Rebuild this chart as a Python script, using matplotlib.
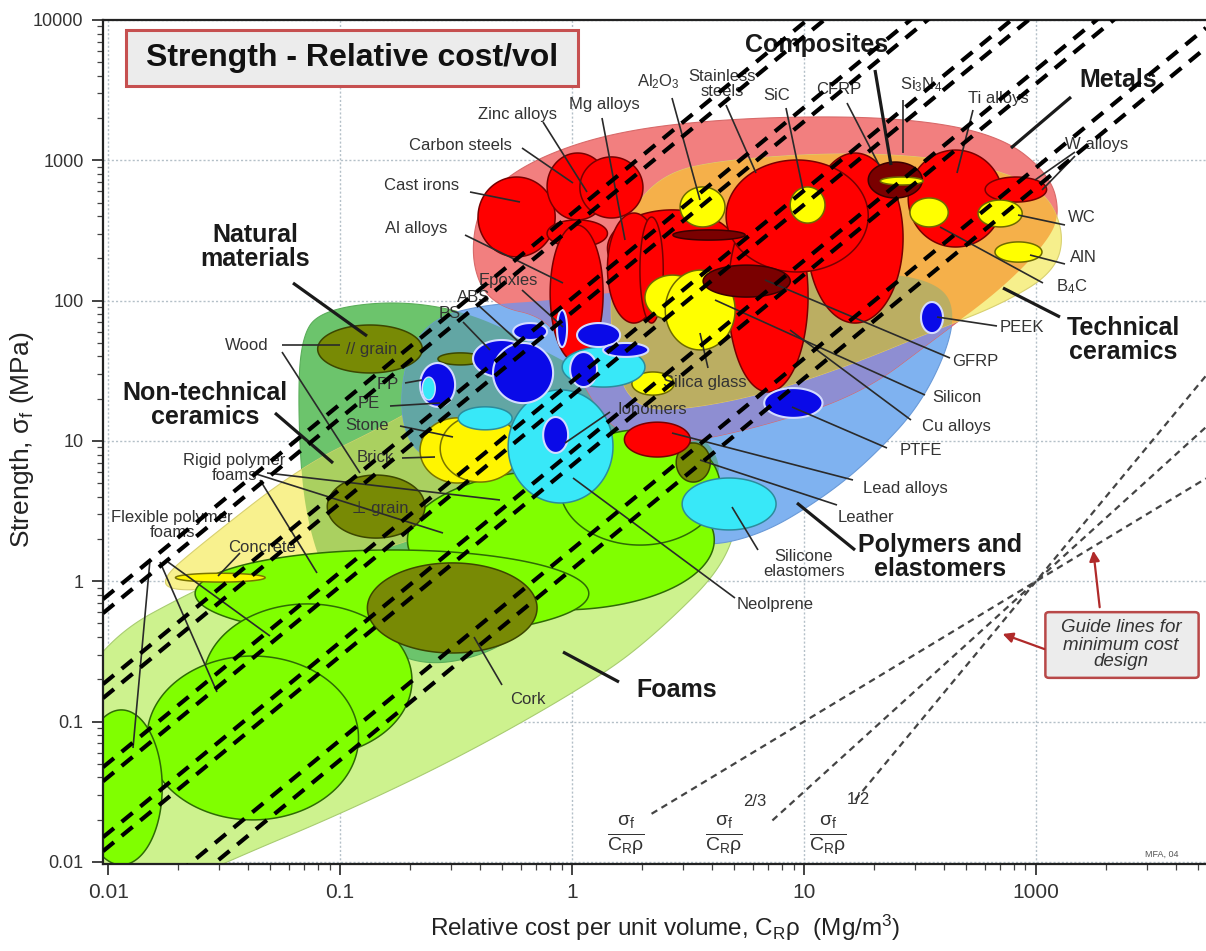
import numpy as np
import matplotlib
matplotlib.use("Agg")
import matplotlib.pyplot as plt
from matplotlib.patches import Polygon, Rectangle, FancyBboxPatch
from matplotlib.lines import Line2D
from matplotlib.ticker import LogLocator, NullFormatter

plt.rcParams['font.family'] = ['Liberation Sans', 'DejaVu Sans']
plt.rcParams['mathtext.fontset'] = 'custom'
plt.rcParams['mathtext.rm'] = 'Liberation Sans'
plt.rcParams['mathtext.it'] = 'Liberation Sans:italic'
plt.rcParams['mathtext.bf'] = 'Liberation Sans:bold'

# ---------------------------------------------------------------------------
# Material property bubbles: (cost lo, cost hi, strength lo, strength hi)
# cost = relative cost per unit volume (Mg/m^3), strength in MPa
# ---------------------------------------------------------------------------
FOAM_BUBBLES = [
    (0.195, 4.10, 0.624, 6.21),
    (0.887, 4.35, 1.81, 12.0),
    (0.0237, 1.18, 0.400, 1.67),
    (0.0257, 0.204, 0.0558, 0.689),
    (0.0147, 0.120, 0.0199, 0.293),
    (0.0076, 0.0171, 0.0095, 0.121),
]
NATURAL_BUBBLES = [
    (0.080, 0.226, 30.5, 67.0),    # wood, parallel to grain
    (0.264, 0.413, 34.8, 42.4),    # bamboo
    (0.088, 0.232, 2.03, 5.71),    # wood, perpendicular to grain
    (0.131, 0.706, 0.308, 1.35),   # cork
    (2.81, 3.94, 5.09, 9.67),      # leather
]
NONTECH_BUBBLES = [
    (0.0195, 0.0475, 0.986, 1.14),  # concrete
    (0.221, 0.466, 5.01, 14.6),     # brick
    (0.270, 0.597, 5.09, 15.3),     # stone
]
METAL_BUBBLES = [
    (0.393, 0.845, 205, 760),      # cast irons
    (1.42, 5.14, 125, 443),
    (0.780, 1.43, 376, 1127),      # carbon steels
    (1.08, 2.02, 388, 1057),       # zinc alloys
    (0.780, 1.42, 241, 376),
    (0.804, 1.36, 36.5, 346),      # Al alloys
    (1.42, 2.40, 69.2, 421),       # Mg alloys
    (1.96, 2.47, 69.2, 394),
    (10.3, 26.7, 69.2, 1127),
    (4.70, 10.4, 22.3, 521),       # Cu alloys
    (4.61, 18.9, 160, 1005),       # stainless steels
    (28.1, 72.1, 241, 1183),       # Ti alloys
    (60.3, 111, 504, 760),         # W alloys
    (1.68, 3.23, 7.68, 13.6),      # lead alloys
]
CERAMIC_BUBBLES = [
    (2.92, 4.56, 335, 646),        # Al2O3
    (8.71, 12.3, 357, 646),        # SiC
    (28.6, 41.8, 335, 539),        # B4C
    (56.2, 87.1, 335, 521),        # WC
    (66.5, 106, 188, 262),         # AlN
    (2.06, 3.56, 72.7, 152),
    (2.52, 5.04, 44.5, 165),       # silicon
    (1.81, 2.75, 21.2, 31.0),      # silica glass
]
CERAMIC_FRONT = [
    (21.3, 32.6, 667, 760),        # Si3N4
]
COMPOSITE_BUBBLES = [
    (18.9, 32.3, 539, 972),        # CFRP
    (3.67, 8.71, 106, 179),        # GFRP
    (2.72, 5.57, 270, 319),
]
ELASTOMER_BUBBLES = [
    (0.530, 1.50, 3.61, 23.1),
    (0.323, 0.551, 12.0, 17.5),
    (0.906, 2.06, 24.2, 46.7),
    (2.98, 7.57, 2.32, 5.44),      # silicone elastomers
]
POLYMER_BUBBLES = [
    (0.221, 0.313, 17.5, 35.9),    # PP
    (0.374, 0.659, 28.5, 52.4),    # PS
    (0.456, 0.828, 18.6, 49.9),
    (0.557, 0.780, 52.4, 69.2),    # ABS
    (0.861, 0.951, 46.7, 85.7),    # epoxies
    (1.05, 1.61, 46.7, 69.2),
    (0.980, 1.28, 24.2, 43.0),
    (1.36, 2.13, 39.7, 49.9),
    (0.750, 0.961, 8.21, 14.8),    # ionomers
    (6.73, 12.0, 14.6, 23.8),      # PTFE
    (31.9, 39.7, 58.7, 97.7),      # PEEK
]
ELASTOMER_FRONT = [
    (0.226, 0.257, 19.6, 28.5),    # PE
]

# Family envelopes: outline points (cost, strength)
ENV_FOAMS = [(0.0056, 0.0738), (0.0095, 0.381), (0.0249, 0.910), (0.0906, 2.32),
             (0.244, 6.21), (0.887, 14.1), (2.92, 12.0), (5.30, 4.47), (4.80, 1.42),
             (2.40, 0.449), (1.32, 0.207), (0.363, 0.0607), (0.103, 0.0223),
             (0.0336, 0.0103), (0.0092, 0.00385)]
ENV_NATURAL = [(0.0659, 14.1), (0.0673, 52.4), (0.082, 85.7), (0.181, 101), (0.401, 78.9),
               (0.887, 37.8), (3.56, 12.0), (4.56, 6.21), (3.56, 3.79), (1.20, 1.42),
               (0.597, 0.381), (0.270, 0.240), (0.149, 0.324), (0.0950, 0.735),
               (0.0706, 2.73)]
ENV_NONTECH = [(0.0167, 1.02), (0.0249, 1.81), (0.0673, 6.52), (0.153, 12.6), (0.244, 19.6),
               (0.490, 21.2), (0.693, 14.1), (0.659, 5.26), (0.363, 2.73), (0.110, 1.42),
               (0.0409, 0.940), (0.0195, 0.838)]
ENV_POLYMERS = [(0.181, 14.1), (0.190, 37.8), (0.244, 72.7), (0.401, 93.1), (0.887, 101),
                (3.56, 140), (15.8, 165), (38.5, 140), (46.1, 72.7), (33.2, 19.6),
                (19.2, 7.31), (11.7, 3.79), (6.46, 2.13), (3.56, 1.73), (1.32, 2.32),
                (0.490, 5.26), (0.221, 7.31)]
ENV_METALS = [(0.363, 195), (0.401, 521), (0.659, 1005), (1.61, 1644), (5.85, 2037),
              (25.9, 2037), (70.0, 1514), (115, 785), (127, 407), (109, 249), (70.0, 119),
              (38.5, 56.9), (17.4, 21.2), (5.85, 12.0), (2.40, 9.06), (1.46, 12.0),
              (1.03, 32.0), (0.804, 75.2), (0.443, 93.1)]
ENV_TECH = [(1.69, 376), (2.40, 785), (4.35, 1005), (15.8, 1145), (47.0, 1005), (104, 667),
            (133, 319), (121, 160), (70.0, 93.1), (36.7, 61.7), (15.8, 34.8), (6.46, 21.2),
            (2.92, 16.6), (1.96, 17.2), (1.58, 27.2), (1.43, 101)]

# Thick selection lines: strength at unit cost (MPa) and log-log slope
THICK_S1 = [419, 333, 104, 82.6, 26.6, 21.1, 8.43, 6.70, 1.69, 1.22]
THICK_SLOPE = 1.36
# Minimum-cost guide lines through a common point, slopes 1, 3/2, 2
GUIDE_SLOPES = [1.0, 1.5, 2.0]
GUIDE_START = [2.2, 7.3, 16.6]
GUIDE_PIVOT = (100.0, 1.0)

X_TICKS = [0.01, 0.1, 1, 10, 100]
X_TICKLABELS = ['0.01', '0.1', '1', '10', '1000']
Y_TICKS = [0.01, 0.1, 1, 10, 100, 1000, 10000]
Y_TICKLABELS = ['0.01', '0.1', '1', '10', '100', '1000', '10000']

# ---------------------------------------------------------------------------
W, H = 1206, 951
fig = plt.figure(figsize=(W / 100, H / 100), dpi=100)
ax = fig.add_axes([103 / W, 87 / H, 1103 / W, 844 / H])
ax.set_xscale('log')
ax.set_yscale('log')
ax.set_xlim(0.0095, 540)
ax.set_ylim(0.00965, 10000)


def P(px, py):
    return (px / W, 1 - py / H)


def ellipse_xy(b, n=160):
    clo, chi, slo, shi = b
    cx = 0.5 * (np.log10(clo) + np.log10(chi))
    rx = 0.5 * (np.log10(chi) - np.log10(clo))
    cy = 0.5 * (np.log10(slo) + np.log10(shi))
    ry = 0.5 * (np.log10(shi) - np.log10(slo))
    t = np.linspace(0, 2 * np.pi, n)
    return np.column_stack([10 ** (cx + rx * np.cos(t)), 10 ** (cy + ry * np.sin(t))])


def smooth_outline(pts, n=5):
    p = np.log10(np.asarray(pts, float))
    for _ in range(n):
        q = np.roll(p, -1, axis=0)
        a = 0.75 * p + 0.25 * q
        b = 0.25 * p + 0.75 * q
        p = np.stack([a, b], axis=1).reshape(-1, 2)
    return 10 ** p


def draw_bubbles(lst, fc, ec, lw, z):
    for b in lst:
        ax.add_patch(Polygon(ellipse_xy(b), closed=True, fc=fc, ec=ec, lw=lw, zorder=z))


env = {k: smooth_outline(v) for k, v in dict(
    foams=ENV_FOAMS, natural=ENV_NATURAL, nontech=ENV_NONTECH, polymers=ENV_POLYMERS,
    metals=ENV_METALS, tech=ENV_TECH).items()}


def draw_env(key, fc, ec, z):
    ax.add_patch(Polygon(env[key], closed=True, fc=fc, ec=ec, lw=0.8, zorder=z))


def draw_overlap(a, b, fc, z):
    p = Polygon(env[a], closed=True, fc=fc, ec='none', zorder=z)
    ax.add_patch(p)
    p.set_clip_path(Polygon(env[b], closed=True, transform=ax.transData))


# envelopes and their overlaps
draw_env('foams', '#CDF28E', '#A8CC70', 1.00)
draw_env('natural', '#6CC46C', '#5AAE5A', 1.01)
draw_env('nontech', '#F8F18E', '#D8D070', 1.02)
draw_overlap('natural', 'nontech', '#AAD060', 1.03)
draw_env('polymers', '#7FB2F0', '#6A9AD8', 1.04)
draw_overlap('natural', 'polymers', '#62A6A4', 1.05)
draw_env('metals', '#F27F7F', '#D86A6A', 1.06)
draw_overlap('metals', 'polymers', '#8E8ED2', 1.07)
draw_env('tech', '#F6EF8C', '#D8D070', 1.08)
draw_overlap('tech', 'metals', '#F5B04A', 1.09)
draw_overlap('tech', 'polymers', '#BBAE62', 1.10)

# bubbles
draw_bubbles(FOAM_BUBBLES, '#80FF00', '#2E6A05', 1.1, 2.0)
draw_bubbles(NATURAL_BUBBLES, '#788A05', '#3C4600', 1.1, 2.1)
draw_bubbles(NONTECH_BUBBLES, '#FFF500', '#7A7400', 1.1, 2.2)
draw_bubbles(METAL_BUBBLES, '#FF0000', '#780000', 1.1, 2.3)
draw_bubbles(CERAMIC_BUBBLES, '#FFFF00', '#6E6A00', 1.1, 2.4)
draw_bubbles(COMPOSITE_BUBBLES, '#7A0000', '#3A0000', 1.1, 2.5)
draw_bubbles(CERAMIC_FRONT, '#FFFF00', '#6E6A00', 1.1, 2.6)
draw_bubbles(ELASTOMER_BUBBLES, '#38E8F8', '#2C8C9C', 1.1, 2.7)
draw_bubbles(POLYMER_BUBBLES, '#0A0AE8', '#D4DCFF', 1.5, 2.8)
draw_bubbles(ELASTOMER_FRONT, '#38E8F8', '#D4DCFF', 1.0, 2.9)

# thin guide lines for minimum cost design
xmin, xmax = ax.get_xlim()
for m, x0 in zip(GUIDE_SLOPES, GUIDE_START):
    xs = np.logspace(np.log10(x0), np.log10(xmax), 50)
    ys = GUIDE_PIVOT[1] * (xs / GUIDE_PIVOT[0]) ** m
    ax.plot(xs, ys, color='#444444', lw=1.6, ls=(0, (3, 2.2)), zorder=4)

# thick selection lines
xs = np.logspace(np.log10(xmin), np.log10(xmax), 50)
for s1 in THICK_S1:
    ax.plot(xs, s1 * xs ** THICK_SLOPE, color='black', lw=3.0, ls=(0, (3.4, 2.4)), zorder=7)

# axes styling
ax.set_xticks(X_TICKS)
ax.set_xticklabels(X_TICKLABELS)
ax.set_yticks(Y_TICKS)
ax.set_yticklabels(Y_TICKLABELS)
ax.xaxis.set_minor_locator(LogLocator(base=10, subs=np.arange(2, 10), numticks=20))
ax.yaxis.set_minor_locator(LogLocator(base=10, subs=np.arange(2, 10), numticks=20))
ax.xaxis.set_minor_formatter(NullFormatter())
ax.yaxis.set_minor_formatter(NullFormatter())
ax.tick_params(which='major', direction='out', length=8, width=1.2, colors='#222222',
               labelsize=15, labelcolor='#333333', pad=6)
ax.tick_params(which='minor', direction='out', length=4, width=0.9, colors='#444444')
ax.tick_params(axis='y', labelsize=13)
ax.set_axisbelow(True)
ax.grid(which='major', color='#B4C0C8', lw=1.0, ls=(0, (1.5, 1.5)))
for s in ('left', 'bottom', 'top'):
    ax.spines[s].set_linewidth(1.6)
    ax.spines[s].set_color('#222222')
ax.spines['right'].set_visible(False)


def txt(px, py, s, fs=11.5, weight='normal', color='#333333', z=6, **kw):
    ax.text(*P(px, py), s, transform=fig.transFigure, ha=kw.pop('ha', 'center'),
            va=kw.pop('va', 'center'), fontsize=fs, fontweight=weight, color=color,
            zorder=z, **kw)


def lead(x0, y0, x1, y1, lw=1.2, color='#2A2A2A'):
    ax.add_line(Line2D([x0 / W, x1 / W], [1 - y0 / H, 1 - y1 / H], transform=fig.transFigure,
                       color=color, lw=lw, zorder=5, solid_capstyle='butt'))


# axis titles
txt(665, 928, r'Relative cost per unit volume, $\mathrm{C_R\rho}$  (Mg/m$^3$)', fs=17.5,
    color='#222222')
txt(22, 440, r'Strength, $\mathrm{\sigma_f}$ (MPa)', fs=19, color='#222222', rotation=90)

# title box
ax.add_patch(Rectangle(P(126, 86), 452 / W, 56 / H, transform=fig.transFigure,
                       fc='#ECECEC', ec='#C65050', lw=2.2, zorder=8))
txt(352, 58, 'Strength - Relative cost/vol', fs=23, weight='bold', color='#111111', z=9)

# material labels
labels = [
    ("Zinc alloys", 518, 115), ("Mg alloys", 604, 104), ("Carbon steels", 460, 146),
    ("Cast irons", 422, 185), ("Al alloys", 416, 228), ("Epoxies", 508, 280),
    ("ABS", 474, 297), ("PS", 450, 313), ("Wood", 247, 345), ("// grain", 372, 350),
    ("PP", 388, 385), ("PE", 369, 404), ("Stone", 367, 425), ("Brick", 375, 458),
    ("Rigid polymer\nfoams", 234, 468), ("\u22a5 grain", 380, 508),
    ("Flexible polymer\nfoams", 172, 525), ("Concrete", 262, 547), ("Cork", 528, 700),
    ("Neolprene", 775, 605), ("Silicone\nelastomers", 804, 564), ("Leather", 866, 518),
    ("Lead alloys", 905, 489), ("PTFE", 921, 451), ("Cu alloys", 956, 426),
    ("Silicon", 957, 397), ("GFRP", 975, 361), ("PEEK", 1022, 327),
    ("Silica glass", 705, 383), ("Ionomers", 652, 410), ("AlN", 1083, 257),
    ("WC", 1082, 217), ("B$_4$C", 1072, 287), ("W alloys", 1097, 145),
    ("Ti alloys", 998, 98), ("Si$_3$N$_4$", 921, 85), ("CFRP", 839, 90),
    ("SiC", 777, 95), ("Stainless\nsteels", 722, 84), ("Al$_2$O$_3$", 658, 82),
]
for s, x, y in labels:
    txt(x, y, s, fs=12, linespacing=1.05)

families = [
    ("Composites", 817, 45), ("Metals", 1118, 80), ("Natural\nmaterials", 255, 247),
    ("Non-technical\nceramics", 205, 405), ("Technical\nceramics", 1123, 340),
    ("Polymers and\nelastomers", 940, 557), ("Foams", 677, 690),
]
for s, x, y in families:
    txt(x, y, s, fs=18, weight='bold', color='#1A1A1A', linespacing=1.0)

material_leaders = [
    (543, 122, 587, 192), (522, 148, 573, 183), (470, 192, 520, 202), (465, 235, 563, 283),
    (602, 118, 625, 240), (672, 98, 700, 200), (726, 105, 756, 173), (786, 108, 803, 190),
    (847, 103, 879, 165), (903, 100, 903, 153), (973, 110, 957, 173),
    (1075, 152, 1035, 180), (1075, 156, 1042, 190), (1065, 225, 1018, 215),
    (1065, 264, 1030, 255), (1043, 283, 940, 227), (997, 326, 937, 317),
    (950, 358, 765, 280), (925, 395, 715, 300), (911, 420, 790, 330), (887, 448, 792, 407),
    (853, 480, 672, 433), (837, 505, 700, 460), (758, 550, 732, 507), (735, 598, 573, 478),
    (708, 368, 700, 333), (610, 412, 565, 443), (522, 290, 563, 327), (478, 305, 520, 343),
    (463, 322, 490, 350), (282, 345, 340, 345), (282, 352, 360, 473), (405, 383, 422, 380),
    (390, 406, 440, 403), (400, 426, 453, 437), (402, 458, 435, 457),
    (253, 473, 443, 533), (267, 473, 500, 500), (260, 480, 317, 573),
    (150, 560, 133, 748), (160, 562, 217, 692), (168, 562, 270, 636),
    (240, 553, 218, 576), (502, 685, 474, 637),
]
for seg in material_leaders:
    lead(*seg)

family_leaders = [
    (875, 70, 891, 165), (1071, 97, 1011, 148), (293, 283, 367, 336), (275, 413, 333, 463),
    (1003, 288, 1060, 317), (797, 503, 855, 550), (563, 652, 619, 682),
]
for seg in family_leaders:
    lead(*seg, lw=2.3, color='#1A1A1A')

# guide line index labels
frac = r'$\frac{\mathrm{\sigma_f}}{\mathrm{C_R\rho}}$'
txt(626, 835, frac, fs=20, color='#333333')
txt(724, 835, frac, fs=20, color='#333333')
txt(828, 835, frac, fs=20, color='#333333')
txt(755, 802, '2/3', fs=12, color='#333333')
txt(858, 799, '1/2', fs=12, color='#333333')

# guide lines call-out box
ax.add_patch(FancyBboxPatch(P(1049, 675), 146 / W, 60 / H, transform=fig.transFigure,
                            boxstyle='round,pad=0.003', fc='#ECECEC', ec='#B84848',
                            lw=1.8, zorder=8))
txt(1121, 645, 'Guide lines for\nminimum cost\ndesign', fs=13.5, style='italic',
    color='#333333', z=9, linespacing=1.0)
for (x0, y0, x1, y1) in [(1047, 650, 1000, 633), (1100, 610, 1093, 548)]:
    ax.annotate('', xy=P(x1, y1), xytext=P(x0, y0), xycoords='figure fraction',
                textcoords='figure fraction',
                arrowprops=dict(arrowstyle='-|>,head_length=0.6,head_width=0.3',
                                color='#B02A2A', lw=1.6), zorder=9)

txt(1162, 854, 'MFA, 04', fs=6.5, color='#555555')

fig.savefig('out.png', dpi=100)
